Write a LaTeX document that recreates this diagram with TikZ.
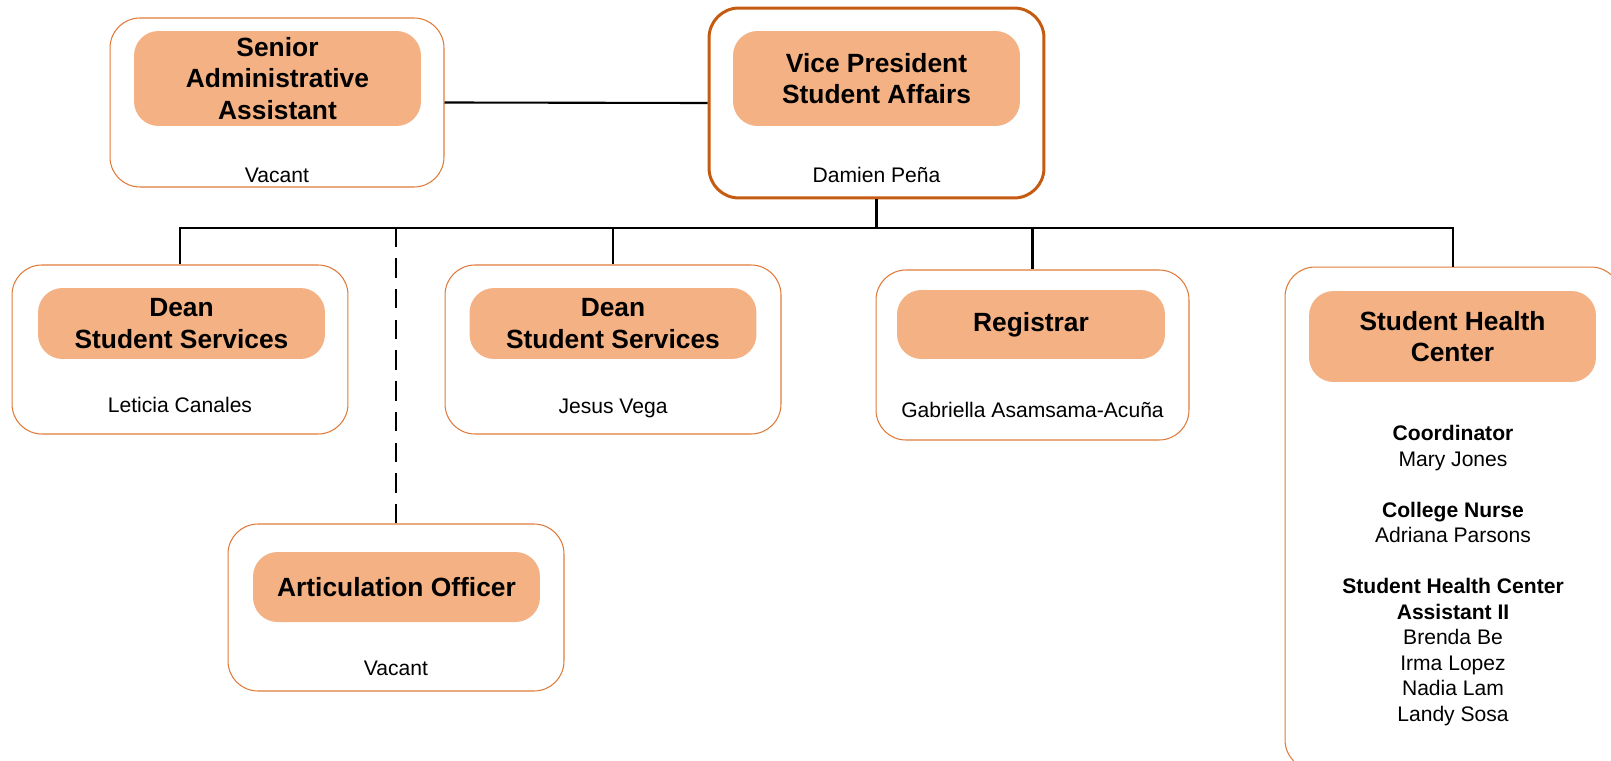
\documentclass[tikz,border=0pt]{standalone}
\usepackage{fontspec}
\setmainfont{Liberation Sans}
\usetikzlibrary{positioning}
\definecolor{headfill}{HTML}{F4B183}
\definecolor{boxline}{HTML}{E07B3A}
\definecolor{vpline}{HTML}{C55A11}
\tikzset{
  unitbox/.style={draw=boxline, line width=0.6pt, rounded corners=17pt, fill=white},
  vpbox/.style={draw=vpline, line width=1.7pt, rounded corners=17pt, fill=white},
  headbox/.style={fill=headfill, rounded corners=14pt, inner sep=0pt, align=center,
    font=\fontsize{15}{18}\selectfont\bfseries},
  namebox/.style={inner sep=0pt, align=center, font=\fontsize{12}{14.5}\selectfont},
  link/.style={line width=1.2pt, black}
}

\begin{document}
\begin{tikzpicture}[x=0.02cm, y=-0.02cm]
    \useasboundingbox (0,0) rectangle (1611,760);
    % boxes
    \node[unitbox, minimum width=6.68cm, minimum height=3.38cm] (senior) at (277,102.5) {};
    \node[vpbox, minimum width=6.7cm, minimum height=3.8cm] (vp) at (876.5,103) {};
    \node[unitbox, minimum width=6.72cm, minimum height=3.38cm] (dean1) at (180,349.5) {};
    \node[unitbox, minimum width=6.72cm, minimum height=3.38cm] (dean2) at (613,349.5) {};
    \node[unitbox, minimum width=6.26cm, minimum height=3.4cm] (reg) at (1032.5,355) {};
    \node[unitbox, minimum width=6.72cm, minimum height=10.06cm] (shc) at (1453,518.5) {};
    \node[unitbox, minimum width=6.72cm, minimum height=3.34cm] (art) at (396,607.5) {};
    % titles
    \node[headbox, minimum width=5.74cm, minimum height=1.9cm] (seniorhead) at (277.5,78.5) {Senior\\Administrative\\Assistant};
    \node[headbox, minimum width=5.74cm, minimum height=1.9cm] (vphead) at (876.5,78.5) {Vice President\\Student Affairs};
    \node[headbox, minimum width=5.74cm, minimum height=1.42cm] (dean1head) at (181.5,323.5) {Dean\\Student Services};
    \node[headbox, minimum width=5.74cm, minimum height=1.42cm] (dean2head) at (613,323.5) {Dean\\Student Services};
    \node[headbox, minimum width=5.36cm, minimum height=1.38cm] (reghead) at (1031,324.5) {Registrar};
    \node[headbox, minimum width=5.74cm, minimum height=1.82cm] (shchead) at (1452.5,336.5) {Student Health\\Center};
    \node[headbox, minimum width=5.74cm, minimum height=1.4cm] (arthead) at (396.5,587) {Articulation Officer};
    % names
    \node[namebox] (seniorname) at (277,175) {Vacant};
    \node[namebox] (vpname) at (876.5,175) {Damien Peña};
    \node[namebox] (dean1name) at (180,405) {Leticia Canales};
    \node[namebox] (dean2name) at (613,408) {Jesus Vega};
    \node[namebox] (regname) at (1032.5,410) {Gabriella Asamsama-Acuña};
    \node[namebox] (artname) at (396,668) {Vacant};
    \node[namebox] (shcstaff) at (1453,575.5) {\textbf{Coordinator}\\Mary Jones\\[14.5pt]
        \textbf{College Nurse}\\Adriana Parsons\\[14.5pt]
        \textbf{Student Health Center}\\\textbf{Assistant II}\\Brenda Be\\Irma Lopez\\Nadia Lam\\Landy Sosa};
    % connectors
    \coordinate (bus) at (0,228);
    \draw[link] (senior.east) -- (vp.west);
    \draw[link] (vp.south) -- (vp.south |- bus);
    \draw[link] (dean1.north) -- (dean1.north |- bus) -- (shc.north |- bus) -- (shc.north);
    \foreach \unit in {dean2,reg}
        \draw[link] (\unit.north) -- (\unit.north |- bus);
    \draw[link, dash pattern=on 11pt off 6.5pt] (art.north) -- (art.north |- bus);
\end{tikzpicture}
\end{document}
